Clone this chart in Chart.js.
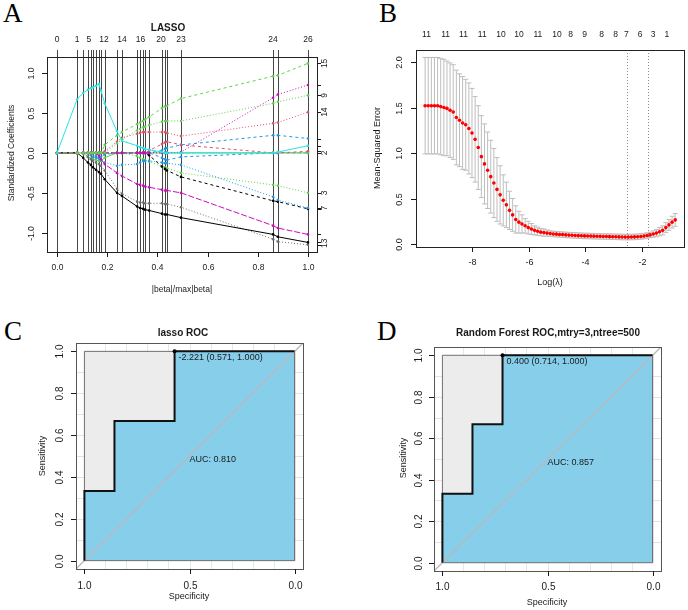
<!DOCTYPE html>
<html>
<head>
<meta charset="utf-8">
<script src="https://cdn.jsdelivr.net/npm/chart.js@4.4.1/dist/chart.umd.min.js"></script>
<style>
  body { margin: 0; background: #fff; width: 688px; height: 610px; position: relative; overflow: hidden; }
  canvas { position: absolute; }
  .tag { position: absolute; font-family: "Liberation Serif", "DejaVu Serif", serif; font-size: 27px; line-height: 1; color: #000; }
</style>
</head>
<body>
<div class="tag" style="left:3px;top:0px">A</div>
<div class="tag" style="left:379px;top:0px">B</div>
<div class="tag" style="left:4px;top:318px">C</div>
<div class="tag" style="left:377px;top:318px">D</div>
<canvas id="lasso" width="344" height="305" style="left:0;top:0"></canvas>
<canvas id="cv" width="344" height="305" style="left:344px;top:0"></canvas>
<canvas id="rocC" width="344" height="305" style="left:0;top:305px"></canvas>
<canvas id="rocD" width="344" height="305" style="left:344px;top:305px"></canvas>
<script>
// ---- A: lasso coefficient paths (x = |beta|/max|beta|) ----
const lassoKnots = [0, 0.08, 0.104, 0.123, 0.135, 0.143, 0.155, 0.167, 0.175, 0.19, 0.239, 0.259,
                    0.319, 0.331, 0.343, 0.351, 0.367, 0.418, 0.43, 0.438, 0.494, 0.861, 0.88, 1.0];
const coefCyan     = [0, 0.67, 0.75, 0.79, 0.81, 0.82, 0.84, 0.86, 0.78, 0.62, 0.27, 0.15,
                      0.09, 0.07, 0.06, 0.05, 0.04, 0.01, 0, 0, 0, 0, 0.01, 0.09];
const coefGreenA   = [0, 0, 0, 0, 0, 0, 0, 0, 0, 0.10, 0.22, 0.26,
                      0.36, 0.38, 0.40, 0.42, 0.45, 0.56, 0.58, 0.59, 0.68, 0.96, 0.97, 1.12];
const coefGreenB   = [0, 0, 0, 0, 0, 0, 0, 0, 0, 0, 0.12, 0.17,
                      0.28, 0.30, 0.32, 0.33, 0.35, 0.39, 0.40, 0.40, 0.40, 0.62, 0.64, 0.72];
const coefMagentaA = [0, 0, 0, 0, 0, 0, 0, 0, 0, 0, 0, 0,
                      0, 0, 0, 0, 0, 0, 0, 0, 0.01, 0.69, 0.73, 0.85];
const coefRedA     = [0, 0, 0, 0, 0, 0, 0, 0, 0, 0.02, 0.14, 0.19,
                      0.24, 0.25, 0.26, 0.26, 0.26, 0.26, 0.26, 0.25, 0.21, 0.37, 0.38, 0.51];
const coefRedB     = [0, 0, 0, 0, 0, 0, 0, 0, 0, 0, 0, 0,
                      0, 0, 0, 0, 0.03, 0.11, 0.13, 0.14, 0.10, 0, 0, 0.02];
const coefBlueA    = [0, 0, 0, 0, 0, 0, 0, 0, 0, 0, 0, 0,
                      0, 0, 0, 0, 0, 0.03, 0.05, 0.06, 0.10, 0.22, 0.22, 0.18];
const coefBlackA   = [0, 0, -0.06, -0.12, -0.15, -0.18, -0.21, -0.24, -0.26, -0.33, -0.50, -0.54,
                      -0.67, -0.69, -0.70, -0.71, -0.72, -0.76, -0.77, -0.77, -0.81, -1.02, -1.05, -1.12];
const coefBlackB   = [0, 0, 0, -0.05, -0.08, -0.10, -0.12, -0.14, -0.16, -0.22, -0.45, -0.51,
                      -0.61, -0.62, -0.62, -0.63, -0.63, -0.63, -0.64, -0.64, -0.68, -1.08, -1.11, -1.15];
const coefMagentaB = [0, 0, 0, 0, 0, 0, 0, -0.04, -0.08, -0.14, -0.25, -0.29,
                      -0.39, -0.40, -0.41, -0.42, -0.43, -0.46, -0.47, -0.47, -0.50, -0.91, -0.94, -1.02];
const coefBlueB    = [0, 0, 0, 0, 0, 0, -0.04, -0.07, -0.09, -0.12, -0.16, -0.15,
                      -0.14, -0.12, -0.10, -0.10, -0.10, -0.12, -0.13, -0.13, -0.15, -0.55, -0.59, -0.69];
const coefBlackC   = [0, 0, 0, 0, 0, 0, 0, 0, 0, 0, 0, 0,
                      0, 0, 0, 0, -0.03, -0.17, -0.20, -0.22, -0.30, -0.60, -0.61, -0.70];
const coefGreenC   = [0, 0, 0, 0, 0, 0, 0, 0, 0, 0, 0, 0,
                      -0.04, -0.06, -0.08, -0.09, -0.11, -0.17, -0.18, -0.19, -0.25, -0.40, -0.41, -0.50];
const coefGreenD   = [0, 0, 0, -0.05, -0.07, -0.08, -0.09, -0.10, -0.10, -0.06, 0, 0,
                      0, 0, 0, 0, 0, 0, 0, 0, 0, 0, 0, 0];
const coefBlueC    = [0, 0, 0, 0, -0.03, -0.05, -0.06, -0.07, -0.05, -0.02, 0, 0,
                      0, 0, 0, 0, 0, -0.06, -0.08, -0.09, -0.05, 0, 0, 0];
const coefCyanB    = [0, 0, 0, 0, 0, 0, 0, 0, 0, 0, 0, 0,
                      0, 0, 0, 0, 0, 0, 0, 0, 0, 0, 0, 0];
const lassoTopAt     = [0, 0.08, 0.127, 0.187, 0.259, 0.333, 0.414, 0.494, 0.861, 1.0];
const lassoTopLabels = ['0', '1', '5', '12', '14', '16', '20', '23', '24', '26'];
const lassoRightAt     = [1.12, 0.72, 0.51, 0, -0.5, -0.69, -1.13];
const lassoRightLabels = ['15', '9', '14', '2', '3', '7', '13'];

// ---- B: cross-validation curve ----
const cvLogLambda = [-9.64, -9.53, -9.42, -9.31, -9.20, -9.09, -8.98, -8.87, -8.76, -8.65,
  -8.54, -8.43, -8.32, -8.21, -8.10, -7.99, -7.88, -7.77, -7.66, -7.55,
  -7.44, -7.33, -7.22, -7.11, -7.00, -6.89, -6.78, -6.67, -6.56, -6.45,
  -6.34, -6.23, -6.12, -6.01, -5.90, -5.79, -5.68, -5.57, -5.46, -5.35,
  -5.24, -5.13, -5.02, -4.91, -4.80, -4.69, -4.58, -4.47, -4.36, -4.25,
  -4.14, -4.03, -3.92, -3.81, -3.70, -3.59, -3.48, -3.37, -3.26, -3.15,
  -3.04, -2.93, -2.82, -2.71, -2.60, -2.49, -2.38, -2.27, -2.16, -2.05,
  -1.94, -1.83, -1.72, -1.61, -1.50, -1.39, -1.28, -1.17, -1.06, -0.95, -0.84];
const cvMse = [1.52, 1.52, 1.52, 1.52, 1.52, 1.51, 1.50, 1.49, 1.47, 1.45,
  1.39, 1.36, 1.33, 1.31, 1.27, 1.22, 1.15, 1.06, 0.96, 0.88,
  0.81, 0.74, 0.67, 0.60, 0.54, 0.48, 0.43, 0.37, 0.32, 0.27,
  0.24, 0.22, 0.20, 0.18, 0.165, 0.15, 0.14, 0.13, 0.125, 0.12,
  0.115, 0.11, 0.108, 0.105, 0.103, 0.10, 0.098, 0.096, 0.094, 0.092,
  0.09, 0.089, 0.088, 0.087, 0.086, 0.085, 0.084, 0.083, 0.082, 0.081,
  0.08, 0.079, 0.078, 0.077, 0.076, 0.076, 0.077, 0.078, 0.08, 0.083,
  0.087, 0.093, 0.10, 0.11, 0.12, 0.135, 0.15, 0.18, 0.21, 0.24, 0.265];
const cvSd = [0.53, 0.53, 0.53, 0.53, 0.53, 0.53, 0.53, 0.52, 0.52, 0.52,
  0.52, 0.51, 0.51, 0.50, 0.50, 0.49, 0.47, 0.46, 0.45, 0.44,
  0.42, 0.40, 0.38, 0.35, 0.32, 0.28, 0.25, 0.21, 0.18, 0.15,
  0.12, 0.10, 0.08, 0.07, 0.06, 0.05, 0.045, 0.04, 0.04, 0.035,
  0.03, 0.03, 0.03, 0.03, 0.03, 0.03, 0.03, 0.03, 0.03, 0.03,
  0.03, 0.03, 0.03, 0.03, 0.03, 0.03, 0.03, 0.03, 0.03, 0.03,
  0.03, 0.03, 0.03, 0.03, 0.03, 0.03, 0.03, 0.03, 0.03, 0.03,
  0.03, 0.03, 0.03, 0.035, 0.04, 0.045, 0.05, 0.055, 0.06, 0.065, 0.07];
const cvTopAt = [-9.59, -8.92, -8.29, -7.63, -6.97, -6.34, -5.67, -5.0, -4.52, -4.03, -3.43, -2.94, -2.56, -2.07, -1.62, -1.13];
const cvTopLabels = ['11', '11', '11', '11', '10', '10', '11', '10', '8', '9', '8', '8', '7', '6', '3', '1'];
const cvLambdaLines = [-2.55, -1.79];

// ---- C / D: ROC curves (specificity, sensitivity) ----
const rocCSpec = [1, 1, 0.857, 0.857, 0.571, 0.571, 0];
const rocCSens = [0, 0.333, 0.333, 0.667, 0.667, 1, 1];
const rocCBest = [0.571, 1.0];
const rocDSpec = [1, 1, 0.857, 0.857, 0.714, 0.714, 0];
const rocDSens = [0, 0.333, 0.333, 0.667, 0.667, 1, 1];
const rocDBest = [0.714, 1.0];

const FONT = '"Liberation Sans", Arial, Helvetica, sans-serif';
const INK = '#1a1a1a';

function txt(ctx, s, x, y, size, opt) {
  opt = opt || {};
  ctx.save();
  ctx.font = (opt.bold ? 'bold ' : '') + size + 'px ' + FONT;
  ctx.fillStyle = opt.color || INK;
  ctx.textAlign = opt.align || 'center';
  ctx.textBaseline = 'middle';
  ctx.translate(x, y);
  if (opt.rot) ctx.rotate(-Math.PI / 2);
  ctx.fillText(s, 0, 0);
  ctx.restore();
}

function seg(ctx, x1, y1, x2, y2, color, w, dash) {
  ctx.save();
  ctx.strokeStyle = color;
  ctx.lineWidth = w || 1;
  ctx.setLineDash(dash || []);
  ctx.beginPath();
  ctx.moveTo(x1, y1);
  ctx.lineTo(x2, y2);
  ctx.stroke();
  ctx.restore();
}

function frame(chart, color) {
  const a = chart.chartArea, ctx = chart.ctx;
  ctx.save();
  ctx.strokeStyle = color;
  ctx.lineWidth = 1;
  ctx.strokeRect(Math.round(a.left) + 0.5, Math.round(a.top) + 0.5,
                 Math.round(a.right - a.left), Math.round(a.bottom - a.top));
  ctx.restore();
}

function bottomAxis(chart, vals, labs, labelY, size) {
  const ctx = chart.ctx, a = chart.chartArea, xs = chart.scales.x;
  vals.forEach((v, i) => {
    const px = Math.round(xs.getPixelForValue(v)) + 0.5;
    seg(ctx, px, a.bottom, px, a.bottom + 5, INK);
    txt(ctx, labs[i], px, labelY, size);
  });
}

function leftAxis(chart, vals, labs, labelX, size) {
  const ctx = chart.ctx, a = chart.chartArea, ys = chart.scales.y;
  vals.forEach((v, i) => {
    const py = Math.round(ys.getPixelForValue(v)) + 0.5;
    seg(ctx, a.left, py, a.left - 5, py, INK);
    txt(ctx, labs[i], labelX, py, size, { rot: true });
  });
}

function rChart(id, padding, xOpt, yOpt, datasets, plugin) {
  return new Chart(document.getElementById(id), {
    type: 'scatter',
    data: { datasets },
    options: {
      responsive: false,
      animation: false,
      events: [],
      layout: { padding },
      plugins: { legend: { display: false }, tooltip: { enabled: false } },
      scales: {
        x: Object.assign({ type: 'linear', display: false }, xOpt),
        y: Object.assign({ type: 'linear', display: false }, yOpt)
      }
    },
    plugins: [plugin]
  });
}

// ---------- A ----------
const lassoStyles = [
  [coefCyan, '#28E2E5', []],
  [coefGreenA, '#61D04F', [3, 3]],
  [coefGreenB, '#61D04F', [1, 2]],
  [coefMagentaA, '#CD0BBC', [1, 2]],
  [coefRedA, '#DF536B', [1, 2]],
  [coefRedB, '#DF536B', [3, 3]],
  [coefBlueA, '#2297E6', [3, 3]],
  [coefBlackA, '#000000', []],
  [coefBlackB, '#6e6e6e', [1, 2]],
  [coefMagentaB, '#CD0BBC', [6, 2]],
  [coefBlueB, '#2297E6', [1, 2]],
  [coefBlackC, '#000000', [3, 3]],
  [coefGreenC, '#61D04F', [1, 2]],
  [coefGreenD, '#61D04F', []],
  [coefBlueC, '#2297E6', [3, 3]],
  [coefCyanB, '#28E2E5', [1, 2]]
];

rChart('lasso', { left: 47, right: 27, top: 57, bottom: 53 },
  { min: -0.04, max: 1.036 }, { min: -1.24, max: 1.2 },
  lassoStyles.map(([vals, color, dash]) => ({
    data: lassoKnots.map((k, i) => ({ x: k, y: vals[i] })),
    showLine: true,
    borderColor: color,
    borderWidth: 1,
    borderDash: dash,
    pointRadius: 1.3,
    pointBorderWidth: 0,
    pointBackgroundColor: color
  })),
  {
    id: 'lassoDecor',
    beforeDatasetsDraw(chart) {
      const ctx = chart.ctx, a = chart.chartArea, xs = chart.scales.x;
      lassoKnots.forEach(k => {
        const px = Math.round(xs.getPixelForValue(k)) + 0.5;
        seg(ctx, px, 50, px, a.bottom, 'rgba(25,25,25,0.8)', 1);
      });
    },
    afterDraw(chart) {
      const ctx = chart.ctx, a = chart.chartArea, xs = chart.scales.x, ys = chart.scales.y;
      frame(chart, '#222');
      bottomAxis(chart, [0, 0.2, 0.4, 0.6, 0.8, 1], ['0.0', '0.2', '0.4', '0.6', '0.8', '1.0'], 268, 8.5);
      leftAxis(chart, [-1, -0.5, 0, 0.5, 1], ['-1.0', '-0.5', '0.0', '0.5', '1.0'], 32, 8.5);
      lassoTopAt.forEach((v, i) => txt(ctx, lassoTopLabels[i], xs.getPixelForValue(v), 40, 8.5));
      lassoStyles.forEach(([vals]) => {
        const py = Math.round(ys.getPixelForValue(vals[vals.length - 1])) + 0.5;
        seg(ctx, a.right, py, a.right + 4, py, INK);
      });
      lassoRightAt.forEach((v, i) => txt(ctx, lassoRightLabels[i], 325, ys.getPixelForValue(v), 8.5, { rot: true }));
      txt(ctx, 'LASSO', 168, 28, 10, { bold: true });
      txt(ctx, '|beta|/max|beta|', 182, 290, 8.5);
      txt(ctx, 'Standardized Coefficients', 12, 153, 8.5, { rot: true });
    }
  });

// ---------- B ----------
rChart('cv', { left: 72, right: 3, top: 50, bottom: 58 },
  { min: -9.96, max: -0.53 }, { min: -0.033, max: 2.132 },
  [{
    data: cvLogLambda.map((x, i) => ({ x, y: cvMse[i] })),
    pointRadius: 1.8,
    pointBorderWidth: 0,
    pointBackgroundColor: '#ff0000'
  }],
  {
    id: 'cvDecor',
    beforeDatasetsDraw(chart) {
      const ctx = chart.ctx, a = chart.chartArea, xs = chart.scales.x, ys = chart.scales.y;
      const barw = 0.01 * (cvLogLambda[cvLogLambda.length - 1] - cvLogLambda[0]);
      cvLogLambda.forEach((x, i) => {
        const px = xs.getPixelForValue(x);
        const pl = xs.getPixelForValue(x - barw), pr = xs.getPixelForValue(x + barw);
        const up = ys.getPixelForValue(cvMse[i] + cvSd[i]);
        const lo = ys.getPixelForValue(cvMse[i] - cvSd[i]);
        seg(ctx, px, up, px, lo, '#bdbdbd', 1);
        seg(ctx, pl, up, pr, up, '#bdbdbd', 1);
        seg(ctx, pl, lo, pr, lo, '#bdbdbd', 1);
      });
      cvLambdaLines.forEach(v => {
        const px = Math.round(xs.getPixelForValue(v)) + 0.5;
        seg(ctx, px, a.top, px, a.bottom, '#8a8a8a', 1, [1, 2]);
      });
    },
    afterDraw(chart) {
      const ctx = chart.ctx, xs = chart.scales.x;
      frame(chart, '#222');
      bottomAxis(chart, [-8, -6, -4, -2], ['-8', '-6', '-4', '-2'], 263, 9);
      leftAxis(chart, [0, 0.5, 1, 1.5, 2], ['0.0', '0.5', '1.0', '1.5', '2.0'], 56, 9);
      cvTopAt.forEach((v, i) => txt(ctx, cvTopLabels[i], xs.getPixelForValue(v), 35, 8.5));
      txt(ctx, 'Log(\u03bb)', 206, 283, 9);
      txt(ctx, 'Mean-Squared Error', 34, 148, 9, { rot: true });
    }
  });

// ---------- C / D ----------
function rocChart(id, padding, spec, sens, best, thr, auc, title, pos) {
  const lim = [-0.04, 1.04];
  rChart(id, padding, { min: lim[0], max: lim[1], reverse: true }, { min: lim[0], max: lim[1] },
    [
      { data: [{ x: best[0], y: best[1] }], pointRadius: 2, pointBorderWidth: 0, pointBackgroundColor: '#000', order: 0 },
      { data: spec.map((x, i) => ({ x, y: sens[i] })), showLine: true, borderColor: '#111', borderWidth: 2,
        pointRadius: 0, order: 1 },
      { data: [{ x: lim[1], y: lim[0] }, { x: lim[0], y: lim[1] }], showLine: true, borderColor: '#b9b9b9',
        borderWidth: 1.3, pointRadius: 0, order: 2 },
      { data: [{ x: 1, y: 0 }, { x: 1, y: 1 }, { x: 0, y: 1 }, { x: 0, y: 0 }, { x: 1, y: 0 }], showLine: true,
        borderColor: '#6f6f6f', borderWidth: 1, pointRadius: 0, order: 3 },
      { data: spec.map((x, i) => ({ x, y: sens[i] })), showLine: true, borderWidth: 0, borderColor: 'rgba(0,0,0,0)',
        fill: 'origin', backgroundColor: '#87CEEB', pointRadius: 0, order: 4 },
      { data: [{ x: 1, y: 1 }, { x: 0, y: 1 }], showLine: true, borderWidth: 0, borderColor: 'rgba(0,0,0,0)',
        fill: 'origin', backgroundColor: '#ececec', pointRadius: 0, order: 5 }
    ],
    {
      id: id + 'Decor',
      beforeDatasetsDraw(chart) {
        const ctx = chart.ctx, a = chart.chartArea, xs = chart.scales.x, ys = chart.scales.y;
        [0.1, 0.2, 0.3, 0.4, 0.5, 0.6, 0.7, 0.8, 0.9].forEach(g => {
          const px = Math.round(xs.getPixelForValue(g)) + 0.5;
          seg(ctx, px, a.top, px, a.bottom, '#dcefdc', 1);
          const py = Math.round(ys.getPixelForValue(g)) + 0.5;
          seg(ctx, a.left, py, a.right, py, '#f2dcdc', 1);
        });
      },
      afterDraw(chart) {
        const ctx = chart.ctx, xs = chart.scales.x, ys = chart.scales.y;
        frame(chart, '#555');
        bottomAxis(chart, [1, 0.5, 0], ['1.0', '0.5', '0.0'], pos.xLab, 10);
        leftAxis(chart, [0, 0.2, 0.4, 0.6, 0.8, 1], ['0.0', '0.2', '0.4', '0.6', '0.8', '1.0'], pos.yLab, 10);
        const bx = xs.getPixelForValue(best[0]), by = ys.getPixelForValue(best[1]);
        txt(ctx, thr + ' (' + best[0].toFixed(3) + ', ' + best[1].toFixed(3) + ')', bx + 4, by + 6.5, 9, { align: 'left' });
        txt(ctx, 'AUC: ' + auc, xs.getPixelForValue(0.5), ys.getPixelForValue(0.5) + 3.5, 9, { align: 'left' });
        txt(ctx, title, pos.titleX, 28, 10, { bold: true });
        txt(ctx, 'Specificity', pos.xTitleX, pos.xTitleY, 9);
        txt(ctx, 'Sensitivity', pos.yTitleX, pos.yTitleY, 9, { rot: true });
      }
    });
}

rocChart('rocC', { left: 76, right: 41, top: 38, bottom: 41 }, rocCSpec, rocCSens, rocCBest, '-2.221', '0.810',
  'lasso ROC', { xLab: 281, yLab: 60, titleX: 183, xTitleX: 189, xTitleY: 292, yTitleX: 43, yTitleY: 151 });
rocChart('rocD', { left: 90, right: 27, top: 42, bottom: 39 }, rocDSpec, rocDSens, rocDBest, '0.400', '0.857',
  'Random Forest ROC,mtry=3,ntree=500', { xLab: 282, yLab: 75, titleX: 204, xTitleX: 203, xTitleY: 298, yTitleX: 60, yTitleY: 153 });
</script>
</body>
</html>
